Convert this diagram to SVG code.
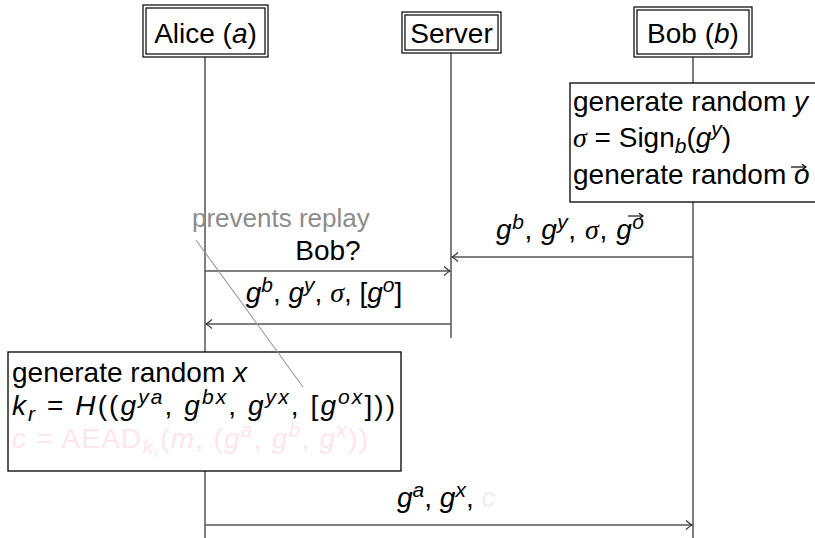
<svg xmlns="http://www.w3.org/2000/svg" width="815" height="538" viewBox="0 0 815 538">
<style>
text{font-family:"Liberation Sans","Arial",sans-serif;font-size:28px;fill:#000}
.i{font-style:italic}
.sg{font-family:"Liberation Serif",serif;font-style:italic}
.s{font-size:21px}
.life{stroke:#555;stroke-width:1.5;fill:none}
.msg{stroke:#555;stroke-width:1.3;fill:none;marker-end:url(#ah)}
.box{fill:#fff;stroke:#000;stroke-width:1.3}
.hd{fill:#fff;stroke:#000;stroke-width:1.2}
.mid{text-anchor:middle}
</style>
<defs>
<marker id="ah" markerUnits="userSpaceOnUse" markerWidth="12" markerHeight="12" viewBox="-8 -6 10 12" refX="0" refY="0" orient="auto">
<path d="M-6,-4.5 Q-2,-1 0,0 Q-2,1 -6,4.5" fill="none" stroke="#333" stroke-width="1.2"/>
</marker>
<marker id="vh" markerUnits="userSpaceOnUse" markerWidth="8" markerHeight="8" viewBox="-5 -4 6 8" refX="0" refY="0" orient="auto">
<path d="M-4,-2.8 L0,0 L-4,2.8" fill="none" stroke="#000" stroke-width="1.1"/>
</marker>
</defs>

<g id="lifelines">
<line class="life" x1="205" y1="57" x2="205" y2="352"/>
<line class="life" x1="205" y1="471" x2="205" y2="538"/>
<line class="life" x1="451" y1="53" x2="451" y2="338"/>
<line class="life" x1="693" y1="57" x2="693" y2="83"/>
<line class="life" x1="693" y1="202" x2="693" y2="538"/>
</g>

<g id="alice">
<rect class="hd" x="143" y="5" width="125" height="52"/>
<rect class="hd" x="146" y="8" width="119" height="46"/>
<text class="mid" x="205.5" y="43">Alice (<tspan class="i">a</tspan>)</text>
</g>

<g id="server">
<rect class="hd" x="402" y="12" width="99" height="41"/>
<rect class="hd" x="405" y="15" width="93" height="35"/>
<text class="mid" x="451.5" y="43">Server</text>
</g>

<g id="bob">
<rect class="hd" x="634" y="7" width="118" height="50"/>
<rect class="hd" x="637" y="10" width="112" height="44"/>
<text class="mid" x="693" y="43">Bob (<tspan class="i">b</tspan>)</text>
</g>

<g id="bob-process">
<rect class="box" x="570" y="83" width="260" height="119"/>
<text x="573" y="111">generate random <tspan class="i">y</tspan></text>
<text x="573" y="147"><tspan class="sg">σ</tspan> = Sign<tspan class="i s" dy="6">b</tspan><tspan dy="-6">(</tspan><tspan class="i">g</tspan><tspan class="i s" dy="-11">y</tspan><tspan dy="11">)</tspan></text>
<text x="573" y="184">generate random <tspan class="i">o</tspan></text>
<line x1="791" y1="167" x2="806" y2="167" stroke="#000" stroke-width="1.2" marker-end="url(#vh)"/>
</g>

<g id="alice-process">
<rect class="box" x="8" y="352" width="393" height="119"/>
<text x="12" y="382">generate random <tspan class="i">x</tspan></text>
<text x="12" y="415" textLength="383" lengthAdjust="spacing"><tspan class="i">k</tspan><tspan class="i s" dy="6">r</tspan><tspan dy="-6"> = </tspan><tspan class="i">H</tspan>((<tspan class="i">g</tspan><tspan class="i s" dy="-11">ya</tspan><tspan dy="11">, </tspan><tspan class="i">g</tspan><tspan class="i s" dy="-11">bx</tspan><tspan dy="11">, </tspan><tspan class="i">g</tspan><tspan class="i s" dy="-11">yx</tspan><tspan dy="11">, [</tspan><tspan class="i">g</tspan><tspan class="i s" dy="-11">ox</tspan><tspan dy="11">]))</tspan></text>
<text x="12" y="448" textLength="356" lengthAdjust="spacing" style="fill:#fde6ec"><tspan class="i">c</tspan> = AEAD<tspan class="i s" dy="6">k</tspan><tspan class="i" style="font-size:14px" dy="3">r</tspan><tspan dy="-9">(</tspan><tspan class="i">m</tspan>, (<tspan class="i">g</tspan><tspan class="i s" dy="-11">a</tspan><tspan dy="11">, </tspan><tspan class="i">g</tspan><tspan class="i s" dy="-11">b</tspan><tspan dy="11">, </tspan><tspan class="i">g</tspan><tspan class="i s" dy="-11">x</tspan><tspan dy="11">))</tspan></text>
</g>

<g id="connectors">
<line class="msg" x1="693" y1="257" x2="452" y2="257"/>
<line class="msg" x1="205" y1="271" x2="450" y2="271"/>
<line class="msg" x1="451" y1="324" x2="206" y2="324"/>
<line class="msg" x1="205" y1="525" x2="692" y2="525"/>
<line x1="196" y1="240" x2="303" y2="387" stroke="#999" stroke-width="1.1"/>
</g>

<g id="labels">
<text x="192" y="227" style="fill:#8c8c8c;font-size:26px">prevents replay</text>
<text class="mid" x="328" y="260">Bob?</text>
<text x="496" y="239" textLength="148" lengthAdjust="spacing"><tspan class="i">g</tspan><tspan class="i s" dy="-10">b</tspan><tspan dy="10">, </tspan><tspan class="i">g</tspan><tspan class="i s" dy="-10">y</tspan><tspan dy="10">, </tspan><tspan class="sg">σ</tspan>, <tspan class="i">g</tspan><tspan class="i s" dy="-10">o</tspan></text>
<line x1="628" y1="216" x2="643" y2="216" stroke="#000" stroke-width="1.1" marker-end="url(#vh)"/>
<text class="mid" x="324" y="302"><tspan class="i">g</tspan><tspan class="i s" dy="-10">b</tspan><tspan dy="10">, </tspan><tspan class="i">g</tspan><tspan class="i s" dy="-10">y</tspan><tspan dy="10">, </tspan><tspan class="sg">σ</tspan>, [<tspan class="i">g</tspan><tspan class="i s" dy="-10">o</tspan><tspan dy="10">]</tspan></text>
<text x="397" y="507"><tspan class="i">g</tspan><tspan class="i s" dy="-10">a</tspan><tspan dy="10">, </tspan><tspan class="i">g</tspan><tspan class="i s" dy="-10">x</tspan><tspan dy="10">, </tspan><tspan class="i" style="fill:#eeeeee">c</tspan></text>
</g>
</svg>
